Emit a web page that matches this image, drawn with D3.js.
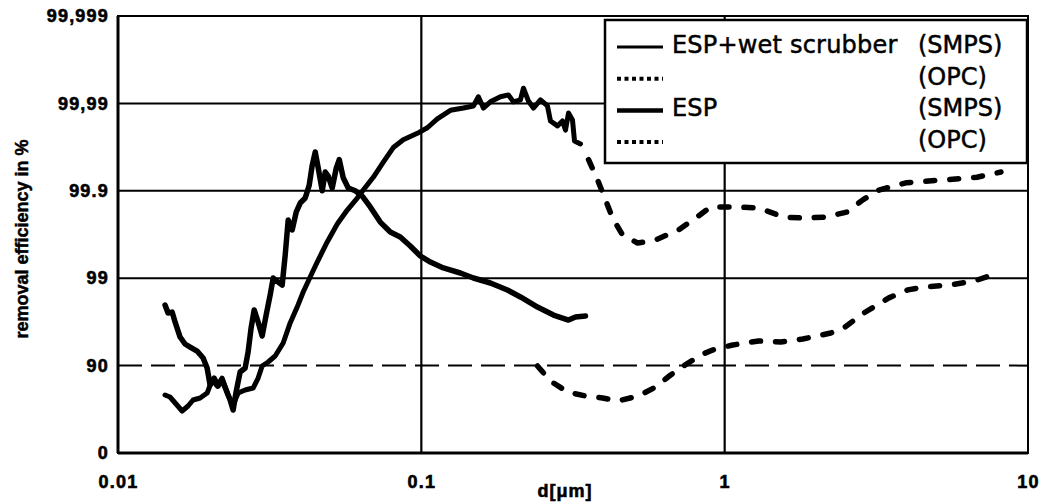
<!DOCTYPE html>
<html>
<head>
<meta charset="utf-8">
<script src="https://cdn.jsdelivr.net/npm/d3@7"></script>
<style>
  body { margin: 0; background: #fff; }
  svg { display: block; }
</style>
</head>
<body>
<div id="chart"></div>
<script>
// axis ticks
const xTicks = [0.01, 0.1, 1, 10];
const xTickLabels = ['0.01', '0.1', '1', '10'];
const yTicks = [0, 90, 99, 99.9, 99.99, 99.999];
const yTickLabels = ['0', '90', '99', '99.9', '99,99', '99,999'];

// [particle diameter in um, removal efficiency in %]
const espWetSmps = [
  [0.01429, 78.30], [0.01484, 77.13], [0.01554, 72.49], [0.01627, 66.93], [0.01702, 71.01],
  [0.01768, 75.24], [0.01865, 76.52], [0.01967, 79.4], [0.02043, 85.39], [0.02122, 82.88],
  [0.02204, 86.13], [0.02307, 78.30], [0.02396, 71.76], [0.02489, 79.4], [0.02625, 80.98],
  [0.02789, 81.95], [0.02897, 86.13], [0.02987, 89.89], [0.03126, 90.91], [0.03297, 92.23],
  [0.03504, 94.49], [0.03695, 96.75], [0.03897, 97.86], [0.04079, 98.56], [0.04301, 99.031],
  [0.04537, 99.347], [0.04895, 99.615], [0.05282, 99.760], [0.05699, 99.834], [0.06149, 99.879],
  [0.06436, 99.902], [0.06943, 99.930], [0.07492, 99.953], [0.08083, 99.968], [0.08718, 99.974],
  [0.09701, 99.978], [0.1047, 99.981], [0.1129, 99.985], [0.1247, 99.988], [0.1376, 99.9887],
  [0.1485, 99.9893], [0.1542, 99.9916], [0.1602, 99.9887], [0.1689, 99.9904], [0.1823, 99.9916],
  [0.1937, 99.9920], [0.2012, 99.9904], [0.2122, 99.9909], [0.2171, 99.9933], [0.2255, 99.9906],
  [0.2342, 99.9887], [0.2470, 99.9909], [0.2605, 99.9893], [0.2665, 99.9841], [0.2811, 99.9819],
  [0.2920, 99.9841], [0.2987, 99.9798], [0.3056, 99.9871], [0.3150, 99.9845], [0.3199, 99.9731],
  [0.3347, 99.9709]
];

const espWetOpc = [
  [0.3558, 99.956], [0.3810, 99.925], [0.4048, 99.873], [0.4270, 99.795], [0.4606, 99.680],
  [0.5163, 99.604], [0.5920, 99.635], [0.7050, 99.72], [0.8023, 99.795], [0.8990, 99.847],
  [1.087, 99.847], [1.295, 99.843], [1.566, 99.80], [1.823, 99.795], [2.154, 99.80],
  [2.527, 99.825], [2.854, 99.873], [3.224, 99.902], [3.958, 99.919], [5.282, 99.925],
  [6.787, 99.930], [8.145, 99.939]
];

const espSmps = [
  [0.01429, 97.97], [0.01462, 97.50], [0.01508, 97.56], [0.01542, 96.83], [0.01602, 95.29],
  [0.01664, 94.34], [0.01729, 93.87], [0.01823, 93.19], [0.01908, 91.82], [0.01967, 89.35],
  [0.02012, 83.33], [0.02074, 86.13], [0.02138, 82.88], [0.02204, 85.39], [0.02272, 80.98],
  [0.02342, 75.24], [0.02396, 67.79], [0.02451, 79.95], [0.02527, 88.16], [0.02625, 89.35],
  [0.02685, 93.01], [0.02747, 96.29], [0.02811, 97.69], [0.02897, 96.83], [0.02987, 95.41],
  [0.03079, 97.36], [0.03174, 98.44], [0.03248, 99.005], [0.03373, 98.89], [0.03477, 98.80],
  [0.03558, 99.457], [0.03640, 99.784], [0.03752, 99.719], [0.03868, 99.825], [0.03987, 99.862],
  [0.04142, 99.879], [0.04270, 99.914], [0.04368, 99.949], [0.04469, 99.964], [0.04572, 99.945],
  [0.04713, 99.90], [0.04822, 99.939], [0.04933, 99.932], [0.05085, 99.907], [0.05242, 99.945],
  [0.05363, 99.956], [0.05528, 99.929], [0.05742, 99.907], [0.06056, 99.90], [0.06387, 99.885],
  [0.06787, 99.847], [0.07322, 99.772], [0.07899, 99.704], [0.08522, 99.662], [0.09194, 99.572],
  [0.09924, 99.443], [0.1071, 99.347], [0.1182, 99.236], [0.1345, 99.128], [0.1485, 99.005],
  [0.1689, 98.865], [0.1922, 98.635], [0.2122, 98.36], [0.2415, 97.86], [0.2727, 97.36],
  [0.3056, 96.99], [0.3223, 97.22], [0.3477, 97.29]
];

const espOpc = [
  [0.2415, 89.89], [0.2665, 84.99], [0.3033, 79.95], [0.3477, 77.73], [0.3958, 76.52],
  [0.4436, 74.59], [0.5202, 77.73], [0.5920, 82.42], [0.6634, 87.19], [0.7322, 89.89],
  [0.8333, 92.44], [0.9127, 93.37], [1.063, 94.19], [1.295, 94.77], [1.530, 94.63],
  [1.809, 95.04], [2.238, 95.76], [2.470, 96.29], [2.875, 97.50], [3.478, 98.32],
  [4.018, 98.64], [4.537, 98.74], [5.487, 98.80], [6.634, 98.92], [7.962, 99.128]
];

const legendNames = ['ESP+wet scrubber', '', 'ESP', ''];
const legendMethods = ['(SMPS)', '(OPC)', '(SMPS)', '(OPC)'];

const width = 1040;
const height = 504;
const margin = { top: 16, right: 12, bottom: 51, left: 118 };
const innerW = width - margin.left - margin.right;
const innerH = height - margin.top - margin.bottom;
const axisFont = '"Liberation Sans", Arial, sans-serif';

const svg = d3.select('#chart')
  .append('svg')
  .attr('width', width)
  .attr('height', height);

const g = svg.append('g')
  .attr('transform', `translate(${margin.left},${margin.top})`);

const x = d3.scaleLog()
  .domain([0.01, 10])
  .range([0, innerW]);

// efficiency axis is log of penetration (100 - eff)
const y = d3.scaleLog()
  .domain([100, 0.001])
  .range([innerH, 0]);
const yEff = e => y(100 - e);

// horizontal grid lines
const gridDash = { 90: '24,9' };
g.selectAll('line.hgrid')
  .data(yTicks.filter(t => t > 0 && t < 99.999))
  .join('line')
  .attr('class', 'hgrid')
  .attr('x1', 0)
  .attr('x2', innerW)
  .attr('y1', d => yEff(d))
  .attr('y2', d => yEff(d))
  .attr('stroke', '#000')
  .attr('stroke-width', 2)
  .attr('stroke-dasharray', d => gridDash[d] || null);

// vertical grid lines
g.selectAll('line.vgrid')
  .data(xTicks.filter(t => t > 0.01 && t < 10))
  .join('line')
  .attr('class', 'vgrid')
  .attr('x1', d => x(d))
  .attr('x2', d => x(d))
  .attr('y1', 0)
  .attr('y2', innerH)
  .attr('stroke', '#000')
  .attr('stroke-width', 2.2);

// frame
g.append('rect')
  .attr('x', 0)
  .attr('y', 0)
  .attr('width', innerW)
  .attr('height', innerH)
  .attr('fill', 'none')
  .attr('stroke', '#000')
  .attr('stroke-width', 2);
g.append('line')
  .attr('x1', 0).attr('x2', 0)
  .attr('y1', 0).attr('y2', innerH)
  .attr('stroke', '#000')
  .attr('stroke-width', 3);
g.append('line')
  .attr('x1', 0).attr('x2', innerW)
  .attr('y1', innerH).attr('y2', innerH)
  .attr('stroke', '#000')
  .attr('stroke-width', 3);

// axes
const xAxis = g.append('g')
  .attr('transform', `translate(0,${innerH})`)
  .call(d3.axisBottom(x)
    .tickValues(xTicks)
    .tickFormat((d, i) => xTickLabels[i])
    .tickSize(0)
    .tickPadding(22));

const yAxis = g.append('g')
  .call(d3.axisLeft(y)
    .tickValues(yTicks.map(t => 100 - t))
    .tickFormat((d, i) => yTickLabels[i])
    .tickSize(0)
    .tickPadding(9));

[xAxis, yAxis].forEach(a => {
  a.select('.domain').remove();
  a.selectAll('text')
    .attr('fill', '#000')
    .attr('stroke', '#000')
    .attr('stroke-width', 0.6)
    .attr('font-family', axisFont)
    .attr('font-weight', 'bold')
    .attr('font-size', 18)
    .attr('letter-spacing', 1.2);
});

// curves
const line = d3.line()
  .x(d => x(d[0]))
  .y(d => yEff(d[1]));

const series = [
  { data: espSmps, width: 5.5, dash: null },
  { data: espWetSmps, width: 5, dash: null },
  { data: espWetOpc, width: 5.5, dash: '9,15' },
  { data: espOpc, width: 5.5, dash: '9,15' }
];

g.selectAll('path.curve')
  .data(series)
  .join('path')
  .attr('class', 'curve')
  .attr('d', d => line(d.data))
  .attr('fill', 'none')
  .attr('stroke', '#000')
  .attr('stroke-width', d => d.width)
  .attr('stroke-linejoin', 'round')
  .attr('stroke-linecap', 'round')
  .attr('stroke-dasharray', d => d.dash);

// legend
const legend = svg.append('g')
  .attr('transform', 'translate(605,20)');

legend.append('rect')
  .attr('x', 0)
  .attr('y', 0)
  .attr('width', 422)
  .attr('height', 143)
  .attr('fill', '#fff')
  .attr('stroke', '#000')
  .attr('stroke-width', 2.5);

const legendStyles = [
  { width: 3, dash: null },
  { width: 4, dash: '4,3.5' },
  { width: 4.5, dash: null },
  { width: 4, dash: '4,3.5' }
];

const rowY = i => 27 + i * 31.7;

legend.selectAll('line.key')
  .data(legendStyles)
  .join('line')
  .attr('class', 'key')
  .attr('x1', 12)
  .attr('x2', 58)
  .attr('y1', (d, i) => rowY(i))
  .attr('y2', (d, i) => rowY(i))
  .attr('stroke', '#000')
  .attr('stroke-width', d => d.width)
  .attr('stroke-dasharray', d => d.dash);

legend.selectAll('text.name')
  .data(legendNames)
  .join('text')
  .attr('class', 'name')
  .attr('x', 67)
  .attr('y', (d, i) => rowY(i) + 6)
  .attr('font-family', '"DejaVu Sans", sans-serif')
  .attr('font-size', 24)
  .attr('letter-spacing', 0.2)
  .attr('stroke', '#000')
  .attr('stroke-width', 0.5)
  .text(d => d);

legend.selectAll('text.method')
  .data(legendMethods)
  .join('text')
  .attr('class', 'method')
  .attr('x', 313)
  .attr('y', (d, i) => rowY(i) + 6)
  .attr('font-family', '"DejaVu Sans", sans-serif')
  .attr('font-size', 24)
  .attr('stroke', '#000')
  .attr('stroke-width', 0.5)
  .text(d => d);

// axis titles
svg.append('text')
  .attr('x', 565)
  .attr('y', 497)
  .attr('text-anchor', 'middle')
  .attr('font-family', axisFont)
  .attr('font-weight', 'bold')
  .attr('font-size', 18)
  .attr('letter-spacing', 1)
  .attr('stroke', '#000')
  .attr('stroke-width', 0.6)
  .text('d[μm]');

svg.append('text')
  .attr('transform', 'translate(28,239) rotate(-90)')
  .attr('text-anchor', 'middle')
  .attr('font-family', axisFont)
  .attr('font-weight', 'bold')
  .attr('font-size', 18)
  .attr('stroke', '#000')
  .attr('stroke-width', 0.5)
  .text('removal efficiency in %');
</script>
</body>
</html>
